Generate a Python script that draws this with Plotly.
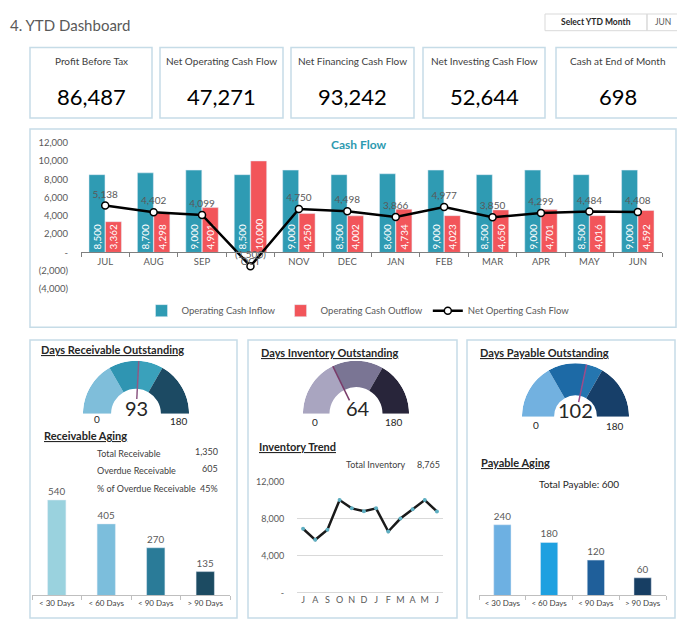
import plotly.graph_objects as go

W, H = 685, 635          # browser window
OFF = 8                  # default page body margin
FW, FH = W - 2 * OFF, H - 2 * OFF   # figure size that fits the window
def px(x): return (x - OFF) / FW
def py(y): return 1 - (y - OFF) / FH

FONT = "Lato, 'Open Sans', sans-serif"
GREY = "#595959"
DARK = "#262626"
BORDER = "#C6DCE7"

# ---------------- data ----------------
kpi_titles = ["Profit Before Tax", "Net Operating Cash Flow", "Net Financing Cash Flow",
              "Net Investing Cash Flow", "Cash at End of Month"]
kpi_values = [86487, 47271, 93242, 52644, 698]

months = ["JUL", "AUG", "SEP", "OCT", "NOV", "DEC", "JAN", "FEB", "MAR", "APR", "MAY", "JUN"]
inflow = [8500, 8700, 9000, 8500, 9000, 8500, 8600, 9000, 8500, 9000, 8500, 9000]
outflow = [3362, 4298, 4901, 10000, 4250, 4002, 4734, 4023, 4650, 4701, 4016, 4592]
net_flow = [5138, 4402, 4099, -1500, 4750, 4498, 3866, 4977, 3850, 4299, 4484, 4408]
cf_ticks = [-4000, -2000, 0, 2000, 4000, 6000, 8000, 10000, 12000]

aging_cats = ["< 30 Days", "< 60 Days", "< 90 Days", "> 90 Days"]
recv_aging = [540, 405, 270, 135]
pay_aging = [240, 180, 120, 60]
total_receivable = 1350
overdue_receivable = 605
overdue_pct = "45%"
total_payable = 600

inv_months = ["J", "A", "S", "O", "N", "D", "J", "F", "M", "A", "M", "J"]
inv_values = [6900, 5700, 6800, 10000, 9100, 8800, 9100, 6600, 8000, 9000, 10000, 8765]
total_inventory = 8765
inv_ticks = [0, 4000, 8000, 12000]

gauge_max = 180
dro, dio, dpo = 93, 64, 102
dro_bands = [0, 60, 93, 120, 180]
dio_bands = [0, 64, 120, 180]
dpo_bands = [0, 60, 102, 120, 180]

def fmt(v):
    if v == 0:
        return "-"
    return f"({abs(v):,})" if v < 0 else f"{v:,}"

fig = go.Figure()

# ---------------- cash flow chart ----------------
TEAL = "#2F9BB3"
RED = "#F2555A"
fig.add_trace(go.Bar(x=months, y=inflow, name="Operating Cash Inflow", marker_color=TEAL,
                     offset=-0.335, width=0.33, text=[f"{v:,}" for v in inflow],
                     textposition="inside", insidetextanchor="start", textangle=-90,
                     textfont=dict(color="white", size=10), xaxis="x", yaxis="y"))
fig.add_trace(go.Bar(x=months, y=outflow, name="Operating Cash Outflow", marker_color=RED,
                     offset=0.005, width=0.33, text=[f"{v:,}" for v in outflow],
                     textposition="inside", insidetextanchor="start", textangle=-90,
                     textfont=dict(color="white", size=10), xaxis="x", yaxis="y"))
fig.add_trace(go.Scatter(x=months, y=net_flow, name="Net Operting Cash Flow",
                         mode="lines+markers+text", line=dict(color="black", width=2.5),
                         marker=dict(color="white", size=7, line=dict(color="black", width=1.5)),
                         text=[fmt(v) for v in net_flow], textposition="top center",
                         textfont=dict(color=GREY, size=10), cliponaxis=False,
                         xaxis="x", yaxis="y"))

cf_top, cf_bot = 139, 288
zero_px = cf_top + (cf_ticks[-1] - 0) / (cf_ticks[-1] - cf_ticks[0]) * (cf_bot - cf_top)

# ---------------- receivable aging bars ----------------
recv_colors = ["#9AD2DE", "#7CBEDC", "#2A7B98", "#1C4B62"]
fig.add_trace(go.Bar(x=aging_cats, y=recv_aging, marker_color=recv_colors, width=0.37,
                     text=[str(v) for v in recv_aging], textposition="outside",
                     textfont=dict(color=GREY, size=10), cliponaxis=False,
                     showlegend=False, xaxis="x2", yaxis="y2"))

# ---------------- inventory trend ----------------
fig.add_trace(go.Scatter(x=list(range(len(inv_values))), y=inv_values, mode="lines+markers",
                         line=dict(color="#1A1A1A", width=2.5),
                         marker=dict(color="#5FAFC2", size=4),
                         showlegend=False, xaxis="x3", yaxis="y3"))

# ---------------- payable aging bars ----------------
pay_colors = ["#6DB0E2", "#1EA0E0", "#1F5F9A", "#173E63"]
fig.add_trace(go.Bar(x=aging_cats, y=pay_aging, marker_color=pay_colors, width=0.37,
                     text=[str(v) for v in pay_aging], textposition="outside",
                     textfont=dict(color=GREY, size=10), cliponaxis=False,
                     showlegend=False, xaxis="x4", yaxis="y4"))

# ---------------- gauges ----------------
def add_gauge(polar, bands, colors, hole, value, needle_color):
    n = len(bands) - 1
    fig.add_trace(go.Barpolar(
        theta=[(a + b) / 2 for a, b in zip(bands[:-1], bands[1:])],
        width=[b - a for a, b in zip(bands[:-1], bands[1:])],
        r=[1 - hole] * n, base=[hole] * n,
        marker=dict(color=colors, line=dict(width=0)),
        showlegend=False, subplot=polar, hoverinfo="skip"))
    fig.add_trace(go.Scatterpolar(r=[0.28, 1.0], theta=[value, value], mode="lines",
                                  line=dict(color=needle_color, width=1.5),
                                  showlegend=False, subplot=polar, hoverinfo="skip"))

add_gauge("polar", dro_bands, ["#7FBEDA", "#2F95B2", "#3AA1BB", "#1C4A63"], 0.47, dro, "#8E5A85")
add_gauge("polar2", dio_bands, ["#A9A5C0", "#7A7594", "#28253A"], 0.5, dio, "#7A3C6A")
add_gauge("polar3", dpo_bands, ["#72B1E0", "#1D6AA6", "#2576B0", "#173F69"], 0.4, dpo, "#9C4B8A")

def polar_layout(cx, cy, r):
    return dict(domain=dict(x=[px(cx - r), px(cx + r)], y=[py(cy), py(cy - r)]),
                sector=[0, 180], bgcolor="rgba(0,0,0,0)", bargap=0, hole=0,
                radialaxis=dict(visible=False, range=[0, 1]),
                angularaxis=dict(visible=False, rotation=180, direction="clockwise"))

# ---------------- shapes ----------------
shapes = []
def rect(x0, y0, x1, y1, color=BORDER, width=1.5):
    shapes.append(dict(type="rect", xref="paper", yref="paper",
                       x0=px(x0), x1=px(x1), y0=py(y1), y1=py(y0),
                       line=dict(color=color, width=width), fillcolor="rgba(0,0,0,0)", layer="below"))

kpi_boxes = [(30, 152), (160, 283), (291, 414), (423, 545), (556, 679)]
for x0, x1 in kpi_boxes:
    rect(x0, 42, x1, 114)
rect(30, 125, 676, 327)
rect(30, 340, 237, 623)
rect(248, 340, 457, 623)
rect(467, 340, 675, 623)
rect(545, 8, 647, 25, color="#D9D9D9", width=1)
rect(647, 8, 690, 25, color="#D9D9D9", width=1)

# ---------------- annotations ----------------
ann = []
def text(x, y, s, size=10, color=DARK, xanchor="center", bold=False, yanchor="middle"):
    if bold:
        s = f"<b>{s}</b>"
    ann.append(dict(x=px(x), y=py(y), xref="paper", yref="paper", text=s, showarrow=False,
                    xanchor=xanchor, yanchor=yanchor,
                    font=dict(size=size, color=color, family=FONT)))

text(8, 8, "4. YTD Dashboard", size=15, color=GREY, xanchor="left", yanchor="top")
text(596, 16.5, "Select YTD Month", size=8.5, bold=True)
text(663, 16.5, months[-1], size=8.5, color=GREY)

for (x0, x1), t, v in zip(kpi_boxes, kpi_titles, kpi_values):
    text((x0 + x1) / 2, 56, t, size=10, color="#404040")
    text((x0 + x1) / 2, 92, f"{v:,}", size=22, color="black")

text(358, 141, "Cash Flow", size=12, color="#2E9AB0", bold=True)

text(39, 350, "<u>Days Receivable Outstanding</u>", size=11, xanchor="left", bold=True)
text(136, 409, str(dro), size=20)
text(97, 420, "0", size=10)
text(179, 422, str(gauge_max), size=10)
text(42, 437, "<u>Receivable Aging</u>", size=11, xanchor="left", bold=True)
text(95, 455, "Total Receivable", size=9, color="#404040", xanchor="left")
text(220, 453, f"{total_receivable:,}", size=9, color="#404040", xanchor="right")
text(95, 473, "Overdue Receivable", size=9, color="#404040", xanchor="left")
text(220, 471, f"{overdue_receivable:,}", size=9, color="#404040", xanchor="right")
text(95, 491, "% of Overdue Receivable", size=9, color="#404040", xanchor="left")
text(220, 491, overdue_pct, size=9, color="#404040", xanchor="right")

text(259, 353, "<u>Days Inventory Outstanding</u>", size=11, xanchor="left", bold=True)
text(358, 409, str(dio), size=20)
text(315, 423, "0", size=10)
text(394, 423, str(gauge_max), size=10)
text(257, 448, "<u>Inventory Trend</u>", size=11, xanchor="left", bold=True)
text(344, 467, "Total Inventory", size=9, color="#404040", xanchor="left")
text(442, 467, f"{total_inventory:,}", size=9, color="#404040", xanchor="right")

text(478, 353, "<u>Days Payable Outstanding</u>", size=11, xanchor="left", bold=True)
text(575, 411, str(dpo), size=20)
text(536, 426, "0", size=10)
text(615, 427, str(gauge_max), size=10)
text(479, 465, "<u>Payable Aging</u>", size=11, xanchor="left", bold=True)
text(579, 486, f"Total Payable: {total_payable}", size=10, color="#262626")

# ---------------- layout ----------------
axis_font = dict(size=9.5, color=GREY, family=FONT)
small_cat_font = dict(size=8, color="#404040", family=FONT)
fig.update_layout(
    width=FW, height=FH, margin=dict(l=0, r=0, t=0, b=0),
    paper_bgcolor="white", plot_bgcolor="rgba(0,0,0,0)",
    font=dict(family=FONT, color=DARK),
    barmode="overlay",
    uniformtext=dict(minsize=8, mode="show"),
    showlegend=True,
    legend=dict(orientation="h", x=px(358), xanchor="center", y=py(310), yanchor="middle",
                font=dict(size=9.5, color=GREY, family=FONT), bgcolor="rgba(0,0,0,0)",
                itemwidth=30, tracegroupgap=0),
    xaxis=dict(domain=[px(81), px(662)], anchor="free", position=py(zero_px),
               type="category", range=[-0.5, 11.5], showline=True, linecolor="#7F7F7F",
               ticks="outside", tickson="boundaries", ticklen=4, tickcolor="#7F7F7F",
               tickfont=axis_font, showgrid=False, zeroline=False, fixedrange=True),
    yaxis=dict(domain=[py(cf_bot), py(cf_top)], anchor="x", range=[cf_ticks[0], cf_ticks[-1]],
               tickvals=cf_ticks, ticktext=[fmt(v) for v in cf_ticks],
               tickfont=axis_font, showgrid=False, zeroline=False, showline=False,
               ticks="outside", ticklen=10, tickcolor="rgba(0,0,0,0)"),
    xaxis2=dict(domain=[px(32), px(230)], anchor="y2", type="category", range=[-0.5, 3.5],
                showline=True, linecolor="#BFBFBF", ticks="outside", tickson="boundaries",
                ticklen=4, tickcolor="#BFBFBF", tickfont=small_cat_font, tickangle=0,
                showgrid=False),
    yaxis2=dict(domain=[py(600), py(492)], anchor="x2", range=[0, 600], visible=False),
    xaxis3=dict(domain=[px(297), px(443)], anchor="y3", range=[-0.5, 11.5],
                tickvals=list(range(len(inv_months))), ticktext=inv_months,
                tickfont=dict(size=9, color=GREY, family=FONT), showgrid=False,
                showline=False, zeroline=False, ticks=""),
    yaxis3=dict(domain=[py(597), py(484)], anchor="x3", range=[0, 12000],
                tickvals=inv_ticks, ticktext=[fmt(v) for v in inv_ticks],
                tickfont=dict(size=9, color=GREY, family=FONT), showgrid=True,
                gridcolor="#D9D9D9", zeroline=True, zerolinecolor="#D9D9D9", zerolinewidth=1,
                ticks="outside", ticklen=10, tickcolor="rgba(0,0,0,0)"),
    xaxis4=dict(domain=[px(479), px(666)], anchor="y4", type="category", range=[-0.5, 3.5],
                showline=True, linecolor="#BFBFBF", ticks="outside", tickson="boundaries",
                ticklen=4, tickcolor="#BFBFBF", tickfont=small_cat_font, tickangle=0,
                showgrid=False),
    yaxis4=dict(domain=[py(600), py(510)], anchor="x4", range=[0, 300], visible=False),
    polar=polar_layout(136, 415, 54),
    polar2=polar_layout(356, 415, 54),
    polar3=polar_layout(575.5, 418, 54.5),
    shapes=shapes,
    annotations=ann,
)

fig.write_html("out.html")
